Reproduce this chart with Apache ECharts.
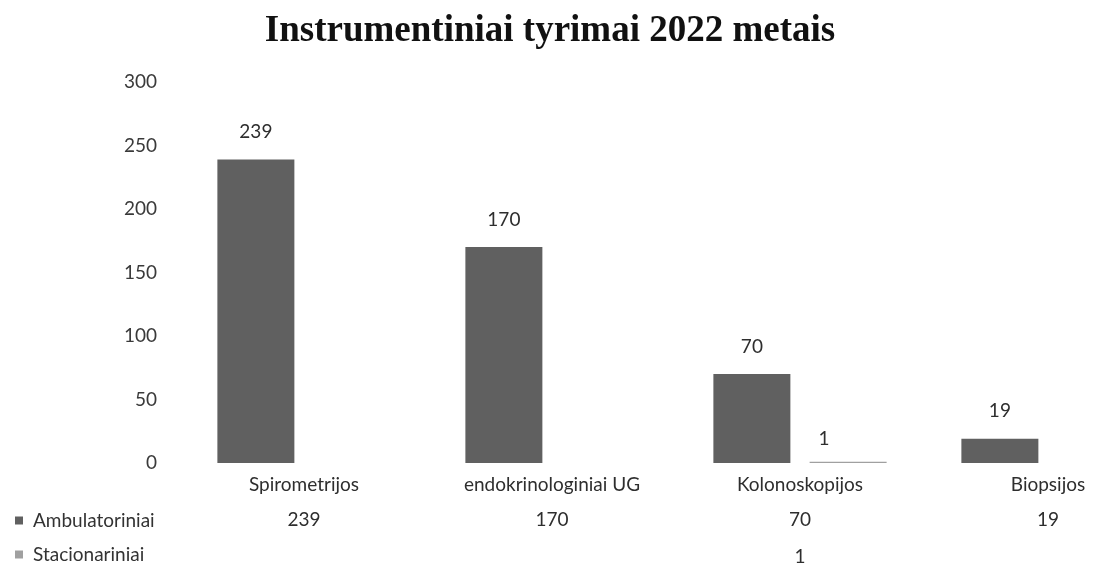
<!DOCTYPE html>
<html><head><meta charset="utf-8">
<script src="https://cdn.jsdelivr.net/npm/echarts@6/dist/echarts.min.js"></script>
<style>html,body{margin:0;padding:0;background:#fff}#c{width:1100px;height:567px}</style>
</head><body><div id="c"></div>
<script>
const titleText = 'Instrumentiniai tyrimai 2022 metais';
const categories = ['Spirometrijos', 'endokrinologiniai UG', 'Kolonoskopijos', 'Biopsijos'];
const seriesNames = ['Ambulatoriniai', 'Stacionariniai'];
const ambulatoriniai = [239, 170, 70, 19];
const stacionariniai = [null, null, 1, null];
const yTicks = [0, 50, 100, 150, 200, 250, 300];

const chart = echarts.init(document.getElementById('c'));
const sans = 'Lato, "Open Sans", sans-serif';
const serif = '"Liberation Serif", "DejaVu Serif", serif';
const txt = '#2e2e2e';
const fs = 19;
const fmtRow = arr => (v, i) => { const x = arr[i]; return x == null ? '' : String(x); };
const legendBase = {
  orient: 'horizontal', left: 10, itemWidth: 8, itemHeight: 8, icon: 'rect', itemGap: 6,
  padding: [2, 5, 2, 5],
  textStyle: { fontFamily: sans, fontSize: fs, color: '#333', padding: [0, 0, 0, 5] }
};

chart.setOption({
  animation: false,
  backgroundColor: '#fff',
  title: {
    text: titleText, left: 'center', top: 8,
    textStyle: { fontFamily: serif, fontWeight: 'bold', fontSize: 37, color: '#111' }
  },
  legend: [
    Object.assign({}, legendBase, { top: 509, data: [seriesNames[0]] }),
    Object.assign({}, legendBase, { top: 543, data: [seriesNames[1]] })
  ],
  grid: { left: 180, top: 82, width: 992, height: 381, containLabel: false, outerBoundsMode: 'none' },
  xAxis: [
    { type: 'category', data: categories, position: 'bottom',
      axisLine: { show: false }, axisTick: { show: false },
      axisLabel: { margin: 12, fontFamily: sans, fontSize: fs, color: txt, interval: 0 } },
    { type: 'category', data: categories, position: 'bottom', offset: 39,
      axisLine: { show: false }, axisTick: { show: false },
      axisLabel: { margin: 8, fontFamily: sans, fontSize: fs, color: txt, interval: 0,
        formatter: fmtRow(ambulatoriniai) } },
    { type: 'category', data: categories, position: 'bottom', offset: 76,
      axisLine: { show: false }, axisTick: { show: false },
      axisLabel: { margin: 8, fontFamily: sans, fontSize: fs, color: txt, interval: 0,
        formatter: fmtRow(stacionariniai) } }
  ],
  yAxis: {
    type: 'value', min: yTicks[0], max: yTicks[yTicks.length - 1], interval: 50,
    axisLine: { show: false }, axisTick: { show: false }, splitLine: { show: false },
    axisLabel: { margin: 23, fontFamily: sans, fontSize: fs, color: '#3a3a3a' }
  },
  series: [
    { name: seriesNames[0], type: 'bar', data: ambulatoriniai, barWidth: 77, barGap: '25%',
      itemStyle: { color: '#606060' },
      label: { show: true, position: 'top', distance: 18, fontFamily: sans, fontSize: fs, color: txt } },
    { name: seriesNames[1], type: 'bar', data: stacionariniai, barWidth: 77,
      itemStyle: { color: '#a0a0a0' },
      label: { show: true, position: 'top', distance: 13, offset: [-24, 0], fontFamily: sans, fontSize: fs, color: txt } }
  ]
});
</script></body></html>
